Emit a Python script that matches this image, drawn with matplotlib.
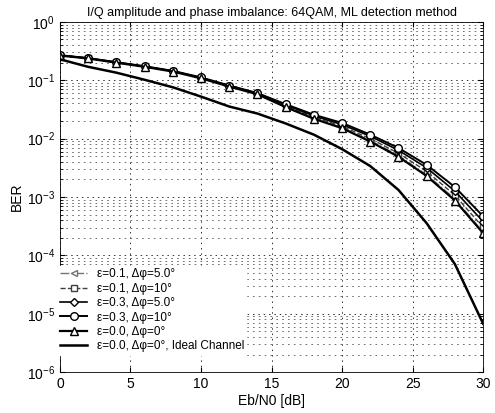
import matplotlib
matplotlib.use('Agg')
import matplotlib.pyplot as plt
from matplotlib.ticker import LogLocator, NullFormatter

plt.rcParams['font.family'] = ['Liberation Sans', 'DejaVu Sans']

# ---------------------------------------------------------------------
# data

ebn0 = [0, 2, 4, 6, 8, 10, 12, 14, 16, 18, 20, 22, 24, 26, 28, 30]

ber_e01_p5 = [0.266, 0.237, 0.201, 0.171, 0.142, 0.109, 0.0788, 0.0582,
              0.0355, 0.0224, 0.0155, 0.00933, 0.00513, 0.00240, 0.000933, 0.000251]
ber_e01_p10 = [0.267, 0.238, 0.202, 0.172, 0.143, 0.110, 0.0795, 0.0588,
               0.0363, 0.0234, 0.0162, 0.0100, 0.00562, 0.00275, 0.00107, 0.000302]
ber_e03_p5 = [0.268, 0.239, 0.203, 0.173, 0.144, 0.111, 0.0805, 0.0595,
              0.0380, 0.0245, 0.0174, 0.0110, 0.00631, 0.00316, 0.00126, 0.000380]
ber_e03_p10 = [0.269, 0.240, 0.204, 0.174, 0.145, 0.112, 0.0813, 0.0603,
               0.0389, 0.0257, 0.0186, 0.0117, 0.00692, 0.00355, 0.00148, 0.000468]
ber_e00_p0 = [0.265, 0.236, 0.200, 0.170, 0.141, 0.108, 0.0780, 0.0575,
              0.0347, 0.0219, 0.0151, 0.00891, 0.00490, 0.00229, 0.000871, 0.000240]
ber_ideal = [0.229, 0.170, 0.135, 0.102, 0.0759, 0.0525, 0.0355, 0.0269,
             0.0182, 0.0117, 0.00661, 0.00339, 0.00132, 0.000355, 7.08e-5, 6.76e-6]

yticks = [1e-6, 1e-5, 1e-4, 1e-3, 1e-2, 1e-1, 1]

labels = ['\u03b5=0.1, \u0394\u03c6=5.0\u00b0',
          '\u03b5=0.1, \u0394\u03c6=10\u00b0',
          '\u03b5=0.3, \u0394\u03c6=5.0\u00b0',
          '\u03b5=0.3, \u0394\u03c6=10\u00b0',
          '\u03b5=0.0, \u0394\u03c6=0\u00b0',
          '\u03b5=0.0, \u0394\u03c6=0\u00b0, Ideal Channel']

# ---------------------------------------------------------------------

fig = plt.figure(figsize=(4.95, 4.13), dpi=100)
ax = fig.add_axes([0.121, 0.099, 0.855, 0.848])

ax.semilogy(ebn0, ber_e01_p5, color='0.45', linestyle='-.', linewidth=1.0,
            marker='<', markersize=5, markerfacecolor='white', label=labels[0])
ax.semilogy(ebn0, ber_e01_p10, color='0.25', linestyle='--', linewidth=1.0,
            marker='s', markersize=5, markerfacecolor='white', label=labels[1])
ax.semilogy(ebn0, ber_e03_p5, color='black', linestyle='-', linewidth=1.2,
            marker='D', markersize=4.5, markerfacecolor='white', label=labels[2])
ax.semilogy(ebn0, ber_e03_p10, color='black', linestyle='-', linewidth=1.4,
            marker='o', markersize=5.5, markerfacecolor='white', label=labels[3])
ax.semilogy(ebn0, ber_e00_p0, color='black', linestyle='-', linewidth=1.6,
            marker='^', markersize=6, markerfacecolor='white', label=labels[4])
ax.semilogy(ebn0, ber_ideal, color='black', linestyle='-', linewidth=1.8,
            label=labels[5])

ax.set_xlim(0, 30)
ax.set_ylim(1e-6, 1)
ax.set_xticks([0, 5, 10, 15, 20, 25, 30])
ax.set_yticks(yticks)
ax.yaxis.set_minor_locator(LogLocator(base=10, subs=range(2, 10), numticks=20))
ax.yaxis.set_minor_formatter(NullFormatter())

ax.grid(True, which='major', color='0.2', linestyle=(0, (1.5, 4)), linewidth=0.7)
ax.grid(True, which='minor', axis='y', color='0.35', linestyle=(0, (2, 5)), linewidth=0.6)

ax.tick_params(direction='in', labelsize=10, top=True, right=True)
ax.tick_params(which='minor', direction='in', right=True)
for sp in ax.spines.values():
    sp.set_linewidth(0.6)

ax.set_title('I/Q amplitude and phase imbalance: 64QAM, ML detection method',
             fontsize=9, pad=4)
ax.set_xlabel('Eb/N0 [dB]', fontsize=10, labelpad=2)
ax.set_ylabel('BER', fontsize=10, labelpad=2)

leg = ax.legend(loc='lower left', bbox_to_anchor=(-0.005, 0.05), frameon=True,
                fancybox=False, fontsize=8.5, handlelength=2.3, borderaxespad=0.0,
                borderpad=0.2, labelspacing=0.2, handletextpad=0.8)
leg.get_frame().set_facecolor('white')
leg.get_frame().set_edgecolor('white')
leg.get_frame().set_alpha(1.0)

fig.savefig('out.png', dpi=100)
